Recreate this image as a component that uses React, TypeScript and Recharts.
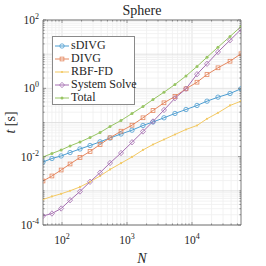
import React from "react";
import { LineChart, Line, XAxis, YAxis, ReferenceLine } from "recharts";

// N and timings (seconds)
const N = [51, 70, 97, 133, 189, 270, 385, 548, 809, 1194, 1762, 2512, 3707, 5470, 8086, 11940, 17020, 25120, 38460, 56750];
const sDIVG = [0.00698, 0.00885, 0.0105, 0.0132, 0.0168, 0.0212, 0.0272, 0.0352, 0.0461, 0.0596, 0.0818, 0.1035, 0.1374, 0.1836, 0.24, 0.315, 0.421, 0.551, 0.706, 0.97];
const DIVG = [0.00194, 0.00272, 0.00407, 0.00611, 0.00946, 0.0142, 0.0227, 0.0357, 0.0557, 0.0834, 0.1374, 0.2244, 0.3776, 0.577, 0.97, 1.513, 2.54, 3.99, 6.22, 10.26];
const RBFFD = [0.000558, 0.000684, 0.00082, 0.001004, 0.001297, 0.00184, 0.00272, 0.00422, 0.00644, 0.0098, 0.0157, 0.0227, 0.0318, 0.0446, 0.0624, 0.0818, 0.1285, 0.1923, 0.315, 0.421];
const SystemSolve = [0.000184, 0.000217, 0.000304, 0.000532, 0.000957, 0.00184, 0.0034, 0.00653, 0.0128, 0.0264, 0.0546, 0.107, 0.232, 0.514, 0.97, 2.59, 5.22, 11.6, 25.6, 52.7];
const Total = [0.0098, 0.0124, 0.0157, 0.0206, 0.0269, 0.0364, 0.051, 0.0764, 0.1146, 0.1836, 0.294, 0.471, 0.771, 1.295, 2.3, 4.36, 8.15, 16.0, 32.9, 64.5];

const xMajor = [100, 1000, 10000];
const yMajor = [1e-4, 1e-2, 1, 100];
const xDomain = [51, 56750];
const yDomain = [1e-4, 100];

const data = N.map((n, i) => ({
  N: n,
  sDIVG: sDIVG[i],
  DIVG: DIVG[i],
  RBFFD: RBFFD[i],
  SystemSolve: SystemSolve[i],
  Total: Total[i],
}));

// log grid values (1..9 x each decade) inside a domain
const logTicks = (lo: number, hi: number) => {
  const out: number[] = [];
  for (let e = -5; e <= 6; e++) {
    for (let m = 1; m < 10; m++) {
      const v = Number((m * Math.pow(10, e)).toPrecision(6));
      if (v >= lo * 0.999 && v <= hi * 1.001) out.push(v);
    }
  }
  return out;
};
const xTicks = logTicks(xDomain[0], xDomain[1]);
const yTicks = logTicks(yDomain[0], yDomain[1]);
const isDecade = (v: number) => Math.abs(Math.log10(v) - Math.round(Math.log10(v))) < 1e-6;
const inList = (list: number[], v: number) => list.some((m) => Math.abs(m - v) / m < 1e-6);

const W = 266;
const H = 266;
const PL = 43;
const PR = 241;
const PT = 20;
const PB = 225;
const FONT = "Times New Roman, Liberation Serif, DejaVu Serif, serif";
const AXIS = "#5a5a5a";
const TEXT = "#262626";

const series = [
  { key: "sDIVG", name: "sDIVG", color: "#4d9dd1", marker: "circle" },
  { key: "DIVG", name: "DIVG", color: "#e5875f", marker: "square" },
  { key: "RBFFD", name: "RBF-FD", color: "#f3c963", marker: "point" },
  { key: "SystemSolve", name: "System Solve", color: "#a56eb1", marker: "diamond" },
  { key: "Total", name: "Total", color: "#98c564", marker: "dot" },
];

const Marker = ({ type, cx, cy, color }: any) => {
  if (type === "circle") return <circle cx={cx} cy={cy} r={2.2} fill="none" stroke={color} strokeWidth={0.8} />;
  if (type === "square") return <rect x={cx - 1.9} y={cy - 1.9} width={3.8} height={3.8} fill="none" stroke={color} strokeWidth={0.8} />;
  if (type === "diamond")
    return <path d={`M${cx},${cy - 2.7}L${cx + 2.5},${cy}L${cx},${cy + 2.7}L${cx - 2.5},${cy}Z`} fill="none" stroke={color} strokeWidth={0.8} />;
  if (type === "point") return <circle cx={cx} cy={cy} r={1.1} fill={color} />;
  return <circle cx={cx} cy={cy} r={1.5} fill={color} />;
};

const Pow = ({ x, y, exp, anchor }: any) => (
  <text x={x} y={y} textAnchor={anchor} fontFamily={FONT} fontSize={11.5} fill={TEXT}>
    <tspan>10</tspan>
    <tspan dy={-5} fontSize={8}>{exp}</tspan>
  </text>
);

const YTick = ({ y, payload }: any) => {
  const major = inList(yMajor, payload.value);
  const len = major ? 3 : 1.6;
  return (
    <g>
      <line x1={PL} x2={PL + len} y1={y} y2={y} stroke={AXIS} strokeWidth={0.6} />
      <line x1={PR - len} x2={PR} y1={y} y2={y} stroke={AXIS} strokeWidth={0.6} />
      {major && <Pow x={39} y={y + 4} exp={Math.round(Math.log10(payload.value))} anchor="end" />}
    </g>
  );
};

const XTick = ({ x, payload }: any) => {
  const major = inList(xMajor, payload.value);
  const len = major ? 3 : 1.6;
  return (
    <g>
      <line x1={x} x2={x} y1={PB} y2={PB - len} stroke={AXIS} strokeWidth={0.6} />
      <line x1={x} x2={x} y1={PT} y2={PT + len} stroke={AXIS} strokeWidth={0.6} />
      {major && <Pow x={x} y={244} exp={Math.round(Math.log10(payload.value))} anchor="middle" />}
    </g>
  );
};

const LegendBox = () => (
  <div
    style={{
      position: "absolute",
      left: 52,
      top: 36,
      width: 83,
      height: 69,
      border: "1px solid #8a8a8a",
      background: "#fff",
      fontFamily: FONT,
      fontSize: 12,
      lineHeight: "13px",
      color: TEXT,
      boxSizing: "border-box",
      paddingTop: 2,
    }}
  >
    {series.map((s) => (
      <div key={s.key} style={{ display: "flex", alignItems: "center", height: 13, whiteSpace: "nowrap" }}>
        <svg width={16} height={10} style={{ marginLeft: 1, marginRight: 1, flex: "none" }}>
          <line x1={1} x2={15} y1={5} y2={5} stroke={s.color} strokeWidth={1} />
          <Marker type={s.marker} cx={8} cy={5} color={s.color} />
        </svg>
        <span>{s.name}</span>
      </div>
    ))}
  </div>
);

export default function App() {
  return (
    <div style={{ position: "fixed", left: 0, top: 0, width: W, height: H, background: "#fff" }}>
      <LineChart width={W} height={H} data={data} margin={{ top: PT, right: W - PR, bottom: 0, left: 0 }}>
        {xTicks.map((v) => (
          <ReferenceLine key={`gx${v}`} x={v} stroke={isDecade(v) ? "#dcdcdc" : "#efefef"} strokeWidth={0.8} />
        ))}
        {yTicks.map((v) => (
          <ReferenceLine key={`gy${v}`} y={v} stroke={isDecade(v) ? "#dcdcdc" : "#efefef"} strokeWidth={0.8} />
        ))}
        <XAxis
          dataKey="N"
          type="number"
          scale="log"
          domain={xDomain}
          allowDataOverflow
          ticks={xTicks}
          interval={0}
          tick={<XTick />}
          tickLine={false}
          axisLine={{ stroke: AXIS, strokeWidth: 0.8 }}
          height={H - PB}
          label={{
            content: () => (
              <g>
                <text x={(PL + PR) / 2} y={263} textAnchor="middle" fontFamily={FONT} fontSize={14} fontStyle="italic" fill={TEXT}>
                  N
                </text>
                <text x={(PL + PR) / 2} y={15} textAnchor="middle" fontFamily={FONT} fontSize={14} fill={TEXT}>
                  Sphere
                </text>
              </g>
            ),
          }}
        />
        <YAxis
          type="number"
          scale="log"
          domain={yDomain}
          allowDataOverflow
          ticks={yTicks}
          interval={0}
          tick={<YTick />}
          tickLine={false}
          axisLine={{ stroke: AXIS, strokeWidth: 0.8 }}
          width={PL}
          label={{
            content: () => (
              <text transform={`translate(15, ${(PT + PB) / 2}) rotate(-90)`} textAnchor="middle" fontFamily={FONT} fontSize={14} fill={TEXT}>
                <tspan fontStyle="italic">t</tspan>
                <tspan> [s]</tspan>
              </text>
            ),
          }}
        />
        <ReferenceLine y={yDomain[1]} stroke={AXIS} strokeWidth={0.8} />
        <ReferenceLine x={xDomain[1]} stroke={AXIS} strokeWidth={0.8} />
        {series.map((s) => (
          <Line
            key={s.key}
            dataKey={s.key}
            name={s.name}
            stroke={s.color}
            strokeWidth={1}
            isAnimationActive={false}
            dot={(p: any) => <Marker key={`${s.key}-${p.index}`} type={s.marker} cx={p.cx} cy={p.cy} color={s.color} />}
            activeDot={false}
          />
        ))}
      </LineChart>
      <LegendBox />
    </div>
  );
}
